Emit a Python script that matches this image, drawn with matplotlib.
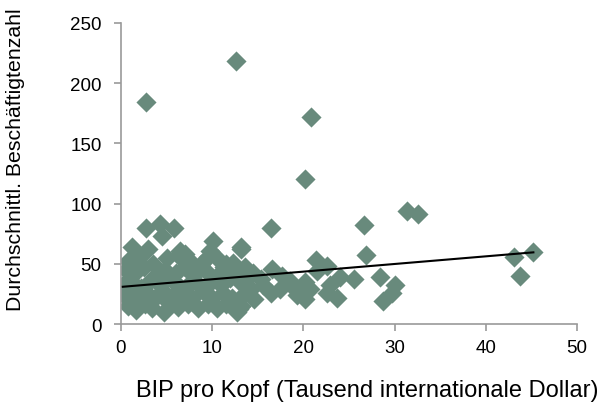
import numpy as np
import matplotlib
matplotlib.use("Agg")
import matplotlib.pyplot as plt

plt.rcParams['font.family'] = ['Liberation Sans', 'DejaVu Sans']

# BIP pro Kopf (Tausend internationale Dollar)
gdp = [
    # outliers / sparse points
    2.7, 12.6, 20.8, 20.2, 31.3, 32.6, 26.6, 26.9, 28.4, 30.0, 29.7, 28.7,
    43.1, 45.2, 43.7, 25.5, 24.0, 16.4, 13.1, 21.4, 22.6, 12.3, 13.6, 16.5,
    17.6, 15.3, 20.2, 19.3, 20.2, 22.6, 23.7, 22.9, 16.4, 17.4, 15.6, 14.2,
    13.1, 12.7, 20.7, 2.7, 4.3, 5.8, 4.5, 10.1, 9.8, 13.1, 1.2,
    # dense cluster
    0.8, 2.0, 3.5, 5.0, 6.3, 7.5, 8.8, 9.5, 6.5, 7.0, 3.0,
    0.5, 1.5, 2.5, 3.8, 4.8, 6.0, 7.0, 8.2, 9.2, 10.5, 11.3, 7.4,
    0.3, 1.2, 2.2, 3.2, 4.3, 5.5, 6.6, 7.7, 8.8, 10.0, 11.0, 12.0, 13.0, 14.0,
    0.2, 1.0, 1.8, 2.8, 3.7, 4.6, 5.7, 6.8, 7.8, 9.0, 10.0, 11.2, 12.2, 13.5, 14.6,
    0.8, 1.6, 2.6, 3.4, 4.7, 5.2, 6.3, 7.3, 8.4, 9.5, 10.5, 11.5, 12.9, 13.1,
    10.5, 11.5, 14.5, 12.6, 18.5, 19.0, 21.5,
]

# Durchschnittl. Beschaeftigtenzahl
employees = [
    184, 218, 172, 120, 94, 91, 82, 57, 39, 32, 26, 19,
    56, 60, 40, 37, 39, 80, 62, 53, 48, 51, 47, 46,
    40, 37, 35, 24, 21, 26, 22, 32, 26, 29, 32, 29,
    15, 10, 29, 80, 83, 80, 73, 69, 61, 64, 64,
    52, 55, 50, 55, 57, 53, 50, 56, 61, 58, 62,
    45, 42, 47, 40, 45, 42, 47, 42, 45, 40, 47, 44,
    33, 35, 30, 36, 32, 37, 30, 35, 31, 36, 32, 38, 35, 40,
    25, 28, 22, 26, 22, 27, 23, 26, 22, 27, 22, 26, 22, 25, 21,
    15, 12, 17, 13, 10, 18, 14, 17, 13, 17, 13, 17, 12.5, 15,
    55, 50, 42, 42, 36, 30, 44,
]

# linear trend line
trend_intercept = 30.8
trend_slope = 0.635

marker_color = '#688a7c'
axis_color = '#9a9a9a'

fig = plt.figure(figsize=(6.05, 4.06), dpi=100)
ax = fig.add_axes([0.2, 0.1995, 0.754, 0.7415])

ax.scatter(gdp, employees, marker='D', s=105, color=marker_color,
           linewidths=0, zorder=2)

xs = np.array([min(gdp), max(gdp)])
ax.plot(xs, trend_intercept + trend_slope * xs, color='black', lw=1.5, zorder=3)

ax.set_xlim(0, 50)
ax.set_ylim(0, 250)
ax.set_xticks([0, 10, 20, 30, 40, 50])
ax.set_yticks([0, 50, 100, 150, 200, 250])

for side in ['top', 'right']:
    ax.spines[side].set_visible(False)
for side in ['left', 'bottom']:
    ax.spines[side].set_color(axis_color)
    ax.spines[side].set_linewidth(1.2)
ax.tick_params(colors=axis_color, width=1.2, length=5, direction='out',
               labelcolor='black', labelsize=13.5)
ax.tick_params(axis='x', pad=6)
ax.tick_params(axis='y', pad=9)

fig.text(0.607, 0.037, 'BIP pro Kopf (Tausend internationale Dollar)',
         ha='center', va='center', fontsize=17)
fig.text(0.026, 0.606, 'Durchschnittl. Beschäftigtenzahl', rotation=90,
         ha='center', va='center', fontsize=15.3)

fig.savefig('out.png', dpi=100)
